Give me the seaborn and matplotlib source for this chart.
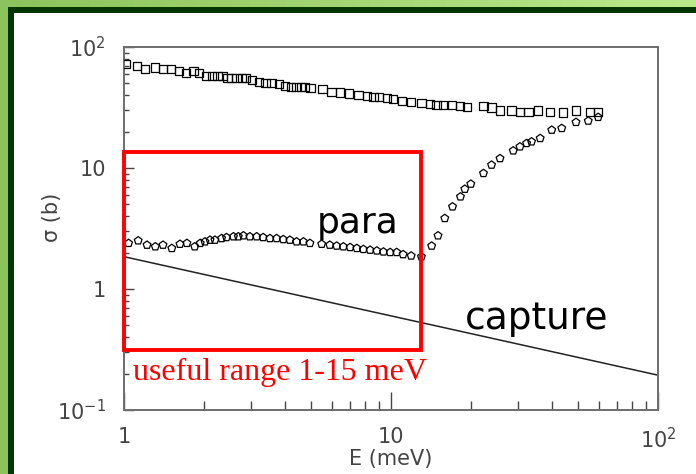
import numpy as np
import pandas as pd
import matplotlib
matplotlib.use("Agg")
import matplotlib.pyplot as plt
import seaborn as sns
from matplotlib.patches import Rectangle
from matplotlib.colors import LinearSegmentedColormap
from matplotlib.ticker import FixedLocator, FixedFormatter, LogLocator, NullFormatter

# ---------------- data ----------------
ortho_E = [1.02, 1.12, 1.20, 1.31, 1.40, 1.50, 1.61, 1.71, 1.82, 1.91,
           2.03, 2.13, 2.24, 2.34, 2.44, 2.53, 2.64, 2.76, 2.86, 3.01,
           3.21, 3.39, 3.57, 3.81, 4.01, 4.21, 4.41, 4.60, 4.76, 5.00,
           5.54, 5.99, 6.44, 6.98, 7.55, 8.11, 8.59, 9.04, 9.68, 10.2,
           11.0, 11.9, 13.0, 14.0, 14.8, 15.7, 16.9, 18.1, 19.3, 22.2,
           23.8, 25.6, 28.3, 30.4, 32.7, 35.6, 39.4, 44.0, 49.3, 55.6, 59.7]
ortho_sigma = [72.4, 70.1, 65.8, 67.9, 65.8, 65.8, 63.0, 61.3, 63.0, 61.3,
               57.9, 57.9, 57.9, 57.9, 55.7, 55.7, 55.7, 55.7, 55.7, 53.4,
               51.7, 50.7, 50.1, 49.5, 47.9, 47.0, 47.0, 47.0, 47.0, 45.6,
               44.7, 42.7, 42.1, 41.4, 40.1, 39.2, 38.8, 38.8, 37.7, 37.0,
               36.0, 35.3, 34.3, 33.8, 33.3, 33.0, 33.0, 32.5, 32.0, 32.7,
               31.7, 29.8, 29.8, 29.2, 29.2, 29.8, 29.2, 28.8, 29.8, 29.2, 29.2]

para_E = [1.04, 1.13, 1.22, 1.31, 1.40, 1.51, 1.62, 1.72, 1.84, 1.93,
          2.01, 2.10, 2.19, 2.32, 2.42, 2.57, 2.68, 2.80, 2.96, 3.14,
          3.32, 3.52, 3.73, 3.95, 4.18, 4.43, 4.70, 4.97, 5.50, 5.90,
          6.26, 6.63, 7.03, 7.45, 7.88, 8.35, 8.85, 9.37, 9.93, 10.5,
          11.1, 11.9, 13.0, 14.2, 15.0, 15.9, 17.0, 18.2, 18.9, 19.9,
          22.2, 23.8, 25.6, 28.7, 30.4, 32.2, 33.6, 36.2, 40.0, 43.6,
          49.3, 54.8, 59.7]
para_sigma = [2.39, 2.51, 2.31, 2.24, 2.31, 2.17, 2.35, 2.39, 2.24, 2.39,
              2.46, 2.54, 2.54, 2.62, 2.67, 2.71, 2.71, 2.76, 2.71, 2.71,
              2.67, 2.62, 2.62, 2.57, 2.54, 2.46, 2.46, 2.39, 2.35, 2.31,
              2.27, 2.24, 2.21, 2.17, 2.13, 2.10, 2.07, 2.03, 2.01, 2.01,
              1.93, 1.88, 1.85, 2.27, 2.76, 3.84, 4.79, 5.79, 6.70, 7.38,
              9.04, 10.6, 12.0, 13.9, 15.0, 16.0, 16.5, 17.6, 20.6, 21.3,
              23.9, 24.5, 26.3]

capture_E = [1.0, 2.42, 15.3, 100.0]
capture_sigma = [1.85, 1.20, 0.487, 0.194]

range_E = [1.0, 13.0]          # useful range box, E limits
range_sigma = [0.313, 13.6]    # useful range box, sigma limits

x_ticks = [1, 10, 100]
x_tick_labels = ['1', '10', r'$10^{2}$']
y_ticks = [0.1, 1, 10, 100]
y_tick_labels = [r'$10^{-1}$', '1', '10', r'$10^{2}$']

# ---------------- style ----------------
sns.set_style("ticks")
plt.rcParams['font.family'] = ['DejaVu Sans']
plt.rcParams['mathtext.default'] = 'regular'

W, H = 696, 474
fig = plt.figure(figsize=(W / 100, H / 100), dpi=100)

# background frame (green gradient + dark green border)
bg = fig.add_axes([0, 0, 1, 1], zorder=-10)
bg.set_xlim(0, W)
bg.set_ylim(H, 0)
bg.axis('off')
grad = np.linspace(0, 1, 256)[None, :]
gcmap = LinearSegmentedColormap.from_list('g', ['#8cc35b', '#bbea8b'])
bg.imshow(grad, cmap=gcmap, extent=[0, W, H, 0], aspect='auto')
bg.add_patch(Rectangle((8, 7), W, H, facecolor='#043604', edgecolor='none'))
bg.add_patch(Rectangle((14, 13), W, H, facecolor='white', edgecolor='none'))

# main axes
ax = fig.add_axes([124 / W, 64 / H, 534 / W, 363 / H])
ax.set_facecolor('none')
ax.set_xscale('log')
ax.set_yscale('log')

df_o = pd.DataFrame({'E': ortho_E, 'sigma': ortho_sigma})
df_p = pd.DataFrame({'E': para_E, 'sigma': para_sigma})
df_c = pd.DataFrame({'E': capture_E, 'sigma': capture_sigma})

sns.lineplot(data=df_c, x='E', y='sigma', color='#222222', linewidth=1.1, ax=ax)
sns.scatterplot(data=df_o, x='E', y='sigma', marker='s', s=36,
                facecolor='none', edgecolor='black', linewidth=0.9, ax=ax, zorder=3)
sns.scatterplot(data=df_p, x='E', y='sigma', marker='p', s=34,
                facecolor='none', edgecolor='black', linewidth=0.9, ax=ax, zorder=3)

ax.set_xlim(1, 100)
ax.set_ylim(0.1, 100)

# ticks
ax.xaxis.set_major_locator(FixedLocator(x_ticks))
ax.xaxis.set_major_formatter(FixedFormatter(x_tick_labels))
ax.yaxis.set_major_locator(FixedLocator(y_ticks))
ax.yaxis.set_major_formatter(FixedFormatter(y_tick_labels))
ax.xaxis.set_minor_locator(LogLocator(base=10, subs=np.arange(2, 10)))
ax.yaxis.set_minor_locator(LogLocator(base=10, subs=np.arange(2, 10)))
ax.xaxis.set_minor_formatter(NullFormatter())
ax.yaxis.set_minor_formatter(NullFormatter())

tick_col = '#444444'
ax.tick_params(axis='x', which='major', direction='in', length=13, width=1.0,
               color=tick_col, labelsize=15, labelcolor=tick_col, pad=12)
ax.tick_params(axis='x', which='minor', direction='in', length=6.5, width=1.0,
               color=tick_col)
ax.tick_params(axis='y', which='major', direction='in', length=7, width=1.0,
               color=tick_col, labelsize=15, labelcolor=tick_col, pad=13)
ax.tick_params(axis='y', which='minor', direction='in', length=3.6, width=1.0,
               color=tick_col)
ax.tick_params(top=False, right=False)

for sp in ax.spines.values():
    sp.set_visible(True)
    sp.set_color('#6e6e6e')
    sp.set_linewidth(1.4)

ax.set_xlabel('E (meV)', fontsize=15, color=tick_col)
ax.set_ylabel('σ (b)', fontsize=15, color=tick_col)
ax.xaxis.set_label_coords(0.5, -0.108)
ax.yaxis.set_label_coords(-0.116, 0.53)

# useful range box
ax.add_patch(Rectangle((range_E[0], range_sigma[0]),
                       range_E[1] - range_E[0], range_sigma[1] - range_sigma[0],
                       fill=False, edgecolor='#ff0000', linewidth=2.8,
                       clip_on=False, zorder=4))


def ftext(x, y, s, **kw):
    fig.text(x / W, 1 - y / H, s, **kw)


ftext(133, 380, 'useful range 1-15 meV', color='#ff0000', fontsize=23,
      family=['Liberation Serif', 'DejaVu Serif'], ha='left', va='baseline')
ftext(317, 233, 'para', color='black', fontsize=26, ha='left', va='baseline')
ftext(465, 329, 'capture', color='black', fontsize=27, ha='left', va='baseline')

fig.savefig('out.png', dpi=100)
